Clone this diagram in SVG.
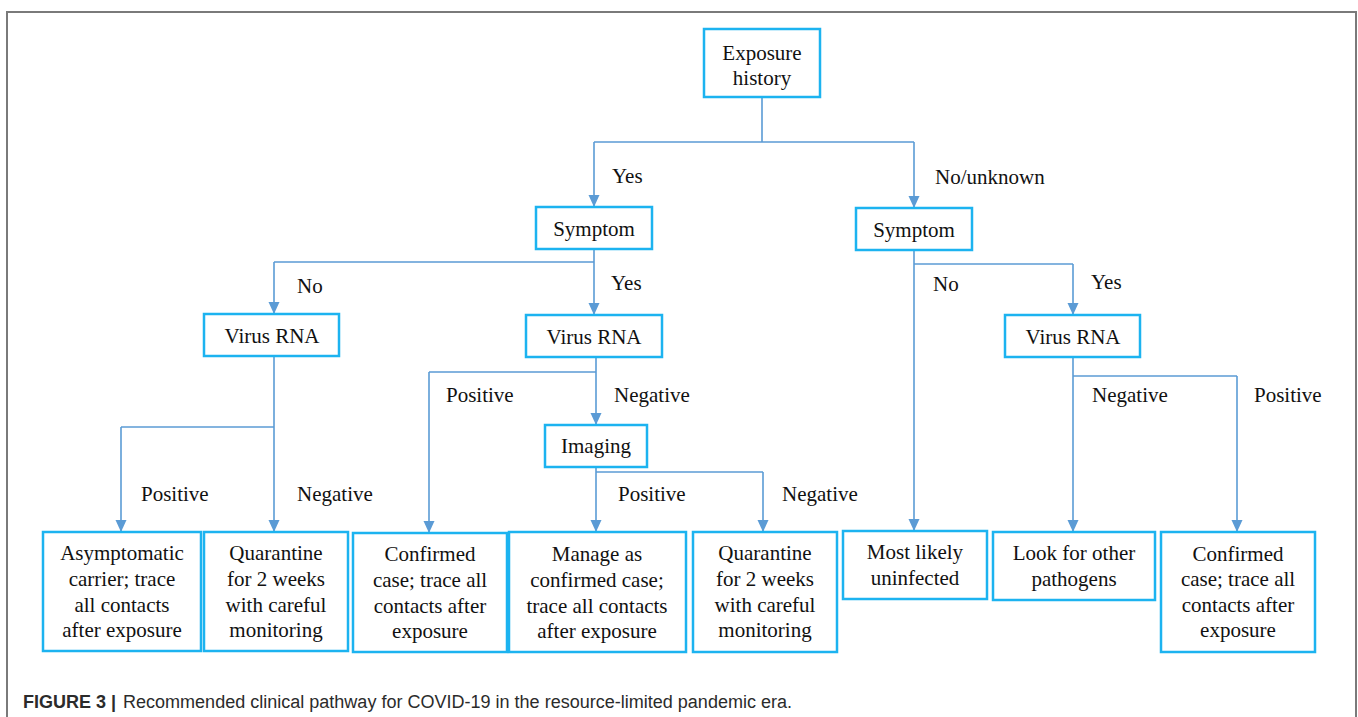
<svg xmlns="http://www.w3.org/2000/svg" width="1358" height="717" viewBox="0 0 1358 717">
<style>
.box{fill:#fff;stroke:#1cb3f0;stroke-width:2.5}
.t{font-family:"Liberation Serif","Times New Roman",serif;font-size:21px;fill:#111;text-anchor:middle}
.l{font-family:"Liberation Serif","Times New Roman",serif;font-size:21px;fill:#111}
.c{fill:none;stroke:#5b9bd5;stroke-width:1.6}
.a{stroke:#5b9bd5;stroke-width:1.6;fill:none;marker-end:url(#ah)}
.cap{font-family:"Liberation Sans",Arial,sans-serif;font-size:18px;fill:#2b2b2b}
</style>
<defs>
<marker id="ah" markerUnits="userSpaceOnUse" markerWidth="12" markerHeight="12" refX="12" refY="6" orient="auto">
<path d="M0,0.5 L12,6 L0,11.5 z" fill="#5b9bd5"/>
</marker>
</defs>
<rect width="1358" height="717" fill="#fff"/>
<path d="M7,730 V12 H1356 V730" fill="none" stroke="#7a7a7a" stroke-width="2"/>

<g id="connectors">
<path class="c" d="M762,97 V142 M594,142 H914"/>
<path class="a" d="M594,142 V207"/>
<path class="a" d="M914,142 V208"/>
<path class="c" d="M594,249 V262 M274,262 H594"/>
<path class="a" d="M274,262 V314"/>
<path class="a" d="M594,262 V315"/>
<path class="c" d="M914,264 H1073"/>
<path class="a" d="M914,250 V531"/>
<path class="a" d="M1073,264 V315"/>
<path class="c" d="M121,427 H274"/>
<path class="a" d="M274,356 V532"/>
<path class="a" d="M121,427 V532"/>
<path class="c" d="M596,357 V372 M429,372 H596"/>
<path class="a" d="M429,372 V533"/>
<path class="a" d="M596,372 V425"/>
<path class="c" d="M596,472 H763"/>
<path class="a" d="M596,467 V532"/>
<path class="a" d="M763,472 V532"/>
<path class="c" d="M1073,376 H1237"/>
<path class="a" d="M1073,357 V532"/>
<path class="a" d="M1237,376 V532"/>
</g>

<g id="labels">
<text class="l" x="612" y="183">Yes</text>
<text class="l" x="935" y="184">No/unknown</text>
<text class="l" x="297" y="293">No</text>
<text class="l" x="611" y="290">Yes</text>
<text class="l" x="933" y="291">No</text>
<text class="l" x="1091" y="289">Yes</text>
<text class="l" x="446" y="402">Positive</text>
<text class="l" x="614" y="402">Negative</text>
<text class="l" x="1092" y="402">Negative</text>
<text class="l" x="1254" y="402">Positive</text>
<text class="l" x="141" y="501">Positive</text>
<text class="l" x="297" y="501">Negative</text>
<text class="l" x="618" y="501">Positive</text>
<text class="l" x="782" y="501">Negative</text>
</g>

<g id="n-exposure"><rect class="box" x="704" y="29" width="116" height="68"/>
<text class="t" x="762" y="60">Exposure</text><text class="t" x="762" y="85">history</text></g>
<g id="n-symptom-l"><rect class="box" x="536" y="207" width="116" height="42"/>
<text class="t" x="594" y="236">Symptom</text></g>
<g id="n-symptom-r"><rect class="box" x="856" y="208" width="116" height="42"/>
<text class="t" x="914" y="237">Symptom</text></g>
<g id="n-virus-l"><rect class="box" x="204" y="314" width="135" height="42"/>
<text class="t" x="272" y="343">Virus RNA</text></g>
<g id="n-virus-m"><rect class="box" x="526" y="315" width="136" height="42"/>
<text class="t" x="594" y="344">Virus RNA</text></g>
<g id="n-virus-r"><rect class="box" x="1005" y="315" width="135" height="42"/>
<text class="t" x="1073" y="344">Virus RNA</text></g>
<g id="n-imaging"><rect class="box" x="545" y="425" width="102" height="42"/>
<text class="t" x="596" y="453">Imaging</text></g>

<g id="n-asymptomatic"><rect class="box" x="43" y="532" width="158" height="119"/>
<text class="t" x="122" y="560">Asymptomatic</text><text class="t" x="122" y="586">carrier; trace</text><text class="t" x="122" y="612">all contacts</text><text class="t" x="122" y="637">after exposure</text></g>
<g id="n-quarantine-1"><rect class="box" x="204" y="532" width="144" height="119"/>
<text class="t" x="276" y="560">Quarantine</text><text class="t" x="276" y="586">for 2 weeks</text><text class="t" x="276" y="612">with careful</text><text class="t" x="276" y="637">monitoring</text></g>
<g id="n-confirmed-1"><rect class="box" x="353" y="533" width="154" height="119"/>
<text class="t" x="430" y="561">Confirmed</text><text class="t" x="430" y="587">case; trace all</text><text class="t" x="430" y="613">contacts after</text><text class="t" x="430" y="638">exposure</text></g>
<g id="n-manage"><rect class="box" x="509" y="532" width="177" height="120"/>
<text class="t" x="597" y="561">Manage as</text><text class="t" x="597" y="587">confirmed case;</text><text class="t" x="597" y="613">trace all contacts</text><text class="t" x="597" y="638">after exposure</text></g>
<g id="n-quarantine-2"><rect class="box" x="693" y="532" width="144" height="120"/>
<text class="t" x="765" y="560">Quarantine</text><text class="t" x="765" y="586">for 2 weeks</text><text class="t" x="765" y="612">with careful</text><text class="t" x="765" y="637">monitoring</text></g>
<g id="n-most-likely"><rect class="box" x="843" y="531" width="144" height="68"/>
<text class="t" x="915" y="559">Most likely</text><text class="t" x="915" y="585">uninfected</text></g>
<g id="n-look-for"><rect class="box" x="993" y="532" width="162" height="68"/>
<text class="t" x="1074" y="560">Look for other</text><text class="t" x="1074" y="586">pathogens</text></g>
<g id="n-confirmed-2"><rect class="box" x="1161" y="532" width="154" height="120"/>
<text class="t" x="1238" y="561">Confirmed</text><text class="t" x="1238" y="586">case; trace all</text><text class="t" x="1238" y="612">contacts after</text><text class="t" x="1238" y="637">exposure</text></g>

<text class="cap" x="23" y="708"><tspan font-weight="bold">FIGURE 3 |</tspan><tspan x="123" textLength="669" lengthAdjust="spacingAndGlyphs">Recommended clinical pathway for COVID-19 in the resource-limited pandemic era.</tspan></text>
</svg>
